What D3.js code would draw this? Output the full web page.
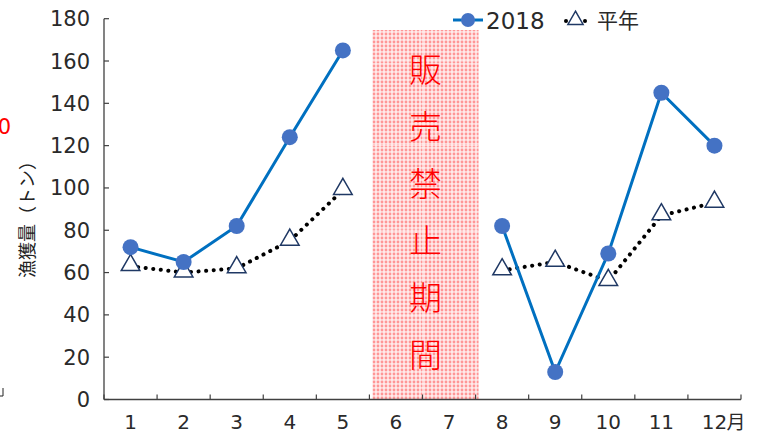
<!DOCTYPE html>
<html><head><meta charset="utf-8">
<script src="https://cdn.jsdelivr.net/npm/d3@7"></script>
<style>body{margin:0;background:#fff}svg{display:block}text{font-family:"Noto Sans CJK JP","Noto Sans",sans-serif}.num{font-family:"DejaVu Sans",sans-serif;font-weight:normal}</style>
</head><body><svg id="c" width="762" height="433"></svg>
<script>
const months = [1,2,3,4,5,6,7,8,9,10,11,12];
const monthUnit = "月";
const yTicks = [0,20,40,60,80,100,120,140,160,180];
const values2018 = [72,65,82,124,165,null,null,82,13,69,145,120];
const valuesAvg = [63,60,62,75,99,null,null,61,65,56,87,93];
const bandMonths = [6,7];
const bandText = "販売禁止期間";
const seriesNames = ["2018","平年"];
const yTitle = "漁獲量（トン）";

const svg = d3.select("#c");
const L=104, R=741, T=18.7, B=399.5;
const x = d3.scaleBand().domain(months).range([L,R]).padding(0);
const y = d3.scaleLinear().domain([0,180]).range([B,T]);
const cx = m => x(m)+x.bandwidth()/2;

// pattern
const defs = svg.append("defs");
const pat = defs.append("pattern").attr("id","dots").attr("width",4).attr("height",4).attr("patternUnits","userSpaceOnUse");
pat.append("rect").attr("width",4).attr("height",4).attr("fill","#ffeaea");
pat.append("circle").attr("cx",2).attr("cy",2).attr("r",1.4).attr("fill","#ff9696");

const bx0 = x(bandMonths[0]), bx1 = x(bandMonths[1])+x.bandwidth();
svg.append("rect").attr("x",bx0+3).attr("y",30).attr("width",bx1-bx0).attr("height",B-30).attr("fill","url(#dots)");
[40,80,120,160].forEach(v=>{
  svg.append("line").attr("x1",bx0+3).attr("x2",bx1+3).attr("y1",y(v)).attr("y2",y(v)).attr("stroke","#fff").attr("stroke-width",1).attr("opacity",0.6);
});
svg.append("line").attr("x1",x(7)).attr("x2",x(7)).attr("y1",30).attr("y2",B).attr("stroke","#fff").attr("opacity",0.5);

bandText.split("").forEach((ch,i)=>{
  svg.append("text").attr("x",(bx0+bx1)/2+3).attr("y",82+i*57).attr("text-anchor","middle")
    .attr("font-size",33).attr("font-weight",300).attr("fill","#ff0000").text(ch);
});

// axes
const axc = "#404040";
svg.append("line").attr("x1",L).attr("x2",L).attr("y1",T).attr("y2",B).attr("stroke",axc).attr("stroke-width",1.3);
svg.append("line").attr("x1",L).attr("x2",R).attr("y1",B).attr("y2",B).attr("stroke",axc).attr("stroke-width",1.3);
yTicks.forEach(v=>{
  svg.append("line").attr("x1",L).attr("x2",L+5).attr("y1",y(v)).attr("y2",y(v)).attr("stroke",axc).attr("stroke-width",1.2);
  svg.append("text").attr("class","num").attr("x",L-14).attr("y",y(v)+7.5).attr("text-anchor","end").attr("font-size",21).attr("fill","#2a2a2a").text(v);
});
months.concat([13]).forEach((m,i)=>{
  const xx = i<12 ? x(m) : R;
  svg.append("line").attr("x1",xx).attr("x2",xx).attr("y1",B).attr("y2",B-5).attr("stroke",axc).attr("stroke-width",1.2);
});
months.forEach(m=>{
  svg.append("text").attr("class","num").attr("x",cx(m)).attr("y",429).attr("text-anchor","middle").attr("font-size",20).attr("fill","#2a2a2a").text(m);
});
svg.append("text").attr("x",cx(12)+12).attr("y",429).attr("text-anchor","start").attr("font-size",19).attr("fill","#2a2a2a").text(monthUnit);

// y title
svg.append("text").attr("transform",`translate(34,215) rotate(-90)`).attr("text-anchor","middle").attr("font-size",18).attr("fill","#222").text(yTitle);

// clipped red and corner artifacts
svg.append("text").attr("class","num").attr("x",11).attr("y",134).attr("text-anchor","end").attr("font-size",21).attr("fill","#ff0000").text("0");
svg.append("path").attr("d","M3,388 V396 H0").attr("stroke","#222").attr("fill","none").attr("stroke-width",1);

// lines
const line = d3.line().defined(d=>d.v!=null).x(d=>cx(d.m)).y(d=>y(d.v));
const d18 = months.map((m,i)=>({m,v:values2018[i]}));
const dAv = months.map((m,i)=>({m,v:valuesAvg[i]}));
svg.append("path").attr("d",line(dAv)).attr("fill","none").attr("stroke","#000").attr("stroke-width",4)
  .attr("stroke-linecap","round").attr("stroke-dasharray","0.1 7.5");
const tri = d3.symbol().type(d3.symbolTriangle).size(150);
svg.selectAll(".tri").data(dAv.filter(d=>d.v!=null)).join("path")
  .attr("transform",d=>`translate(${cx(d.m)},${y(d.v)-1})`).attr("d",tri).attr("fill","#fff").attr("stroke","#1f3864").attr("stroke-width",1.5);
svg.append("path").attr("d",line(d18)).attr("fill","none").attr("stroke","#0070c0").attr("stroke-width",3);
svg.selectAll(".c18").data(d18.filter(d=>d.v!=null)).join("circle")
  .attr("cx",d=>cx(d.m)).attr("cy",d=>y(d.v)).attr("r",8).attr("fill","#4472c4");

// legend
const ly = 20;
svg.append("line").attr("x1",453).attr("x2",483).attr("y1",ly).attr("y2",ly).attr("stroke","#0070c0").attr("stroke-width",3);
svg.append("circle").attr("cx",468).attr("cy",ly).attr("r",7).attr("fill","#4472c4");
svg.append("text").attr("class","num").attr("x",486).attr("y",ly+8.5).attr("font-size",23).attr("fill","#2a2a2a").text(seriesNames[0]);
svg.append("circle").attr("cx",566).attr("cy",ly+1).attr("r",2).attr("fill","#000");
svg.append("circle").attr("cx",585).attr("cy",ly+1).attr("r",2).attr("fill","#000");
svg.append("path").attr("transform",`translate(575.5,${ly})`).attr("d",d3.symbol().type(d3.symbolTriangle).size(100)).attr("fill","#fff").attr("stroke","#1f3864").attr("stroke-width",1.5);
svg.append("text").attr("x",597).attr("y",ly+8).attr("font-size",21).attr("fill","#2a2a2a").text(seriesNames[1]);
</script></body></html>
